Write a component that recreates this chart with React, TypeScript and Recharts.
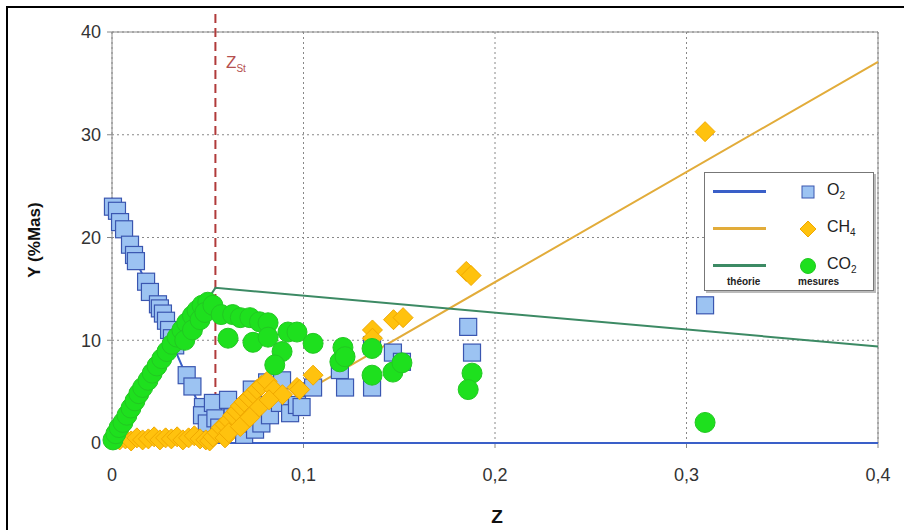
import React from 'react';
import {
  CartesianGrid,
  ReferenceLine,
  Scatter,
  ScatterChart,
  XAxis,
  YAxis,
} from 'recharts';

// Mass fractions vs mixture fraction Z: theory (lines) and measurements (markers).

const X_TICKS = [0, 0.1, 0.2, 0.3, 0.4];
const Y_TICKS = [0, 10, 20, 30, 40];
const Z_ST = 0.054;

// theory curves
const O2_THEORY = [
  { z: 0, y: 23.2 },
  { z: 0.054, y: 0 },
  { z: 0.4, y: 0 },
];
const CH4_THEORY = [
  { z: 0, y: 0 },
  { z: 0.054, y: 0 },
  { z: 0.4, y: 37.1 },
];
const CO2_THEORY = [
  { z: 0, y: 0 },
  { z: 0.054, y: 15.1 },
  { z: 0.4, y: 9.4 },
];

// measurements
const O2_MEAS = [
  { z: 0.0005, y: 23.0 }, { z: 0.0026, y: 22.6 }, { z: 0.0042, y: 21.5 },
  { z: 0.0063, y: 20.8 }, { z: 0.0094, y: 19.3 }, { z: 0.0115, y: 18.3 },
  { z: 0.0125, y: 17.7 }, { z: 0.0178, y: 15.7 }, { z: 0.0198, y: 14.7 },
  { z: 0.024, y: 13.5 }, { z: 0.025, y: 13.1 }, { z: 0.0266, y: 12.6 },
  { z: 0.0282, y: 11.9 }, { z: 0.0298, y: 11.0 }, { z: 0.0313, y: 10.2 },
  { z: 0.033, y: 9.5 }, { z: 0.039, y: 6.6 }, { z: 0.042, y: 5.5 },
  { z: 0.0475, y: 3.5 }, { z: 0.047, y: 2.7 }, { z: 0.0495, y: 1.9 },
  { z: 0.0527, y: 3.9 }, { z: 0.054, y: 2.4 }, { z: 0.056, y: 1.5 },
  { z: 0.0606, y: 4.2 }, { z: 0.063, y: 2.5 }, { z: 0.066, y: 1.5 },
  { z: 0.069, y: 0.8 }, { z: 0.068, y: 1.9 }, { z: 0.073, y: 5.2 },
  { z: 0.0747, y: 1.3 }, { z: 0.078, y: 1.9 }, { z: 0.081, y: 5.9 },
  { z: 0.08, y: 3.7 }, { z: 0.0825, y: 2.7 }, { z: 0.0877, y: 3.9 },
  { z: 0.0888, y: 6.1 }, { z: 0.093, y: 2.9 }, { z: 0.0966, y: 3.7 },
  { z: 0.099, y: 3.5 }, { z: 0.105, y: 5.4 }, { z: 0.119, y: 7.1 },
  { z: 0.1217, y: 5.4 }, { z: 0.1358, y: 9.5 }, { z: 0.1358, y: 5.4 },
  { z: 0.1467, y: 8.8 }, { z: 0.1514, y: 7.9 }, { z: 0.186, y: 11.3 },
  { z: 0.188, y: 8.8 }, { z: 0.3097, y: 13.4 },
];

const CH4_MEAS = [
  { z: 0.004, y: 0.3 }, { z: 0.007, y: 0.4 }, { z: 0.010, y: 0.2 },
  { z: 0.013, y: 0.5 }, { z: 0.016, y: 0.3 }, { z: 0.019, y: 0.4 },
  { z: 0.022, y: 0.6 }, { z: 0.025, y: 0.3 }, { z: 0.028, y: 0.5 },
  { z: 0.031, y: 0.4 }, { z: 0.034, y: 0.6 }, { z: 0.037, y: 0.3 },
  { z: 0.040, y: 0.5 }, { z: 0.043, y: 0.7 }, { z: 0.046, y: 0.4 },
  { z: 0.049, y: 0.3 }, { z: 0.051, y: 0.2 },
  { z: 0.0527, y: 0.6 }, { z: 0.055, y: 1.0 }, { z: 0.057, y: 1.5 },
  { z: 0.059, y: 1.8 }, { z: 0.061, y: 2.2 }, { z: 0.063, y: 2.7 },
  { z: 0.065, y: 3.1 }, { z: 0.067, y: 3.6 }, { z: 0.069, y: 4.0 },
  { z: 0.0715, y: 4.4 }, { z: 0.0736, y: 4.8 }, { z: 0.0757, y: 5.2 },
  { z: 0.078, y: 5.6 }, { z: 0.081, y: 6.0 }, { z: 0.0845, y: 5.2 },
  { z: 0.089, y: 4.7 }, { z: 0.0966, y: 5.4 }, { z: 0.059, y: 0.5 },
  { z: 0.061, y: 1.0 }, { z: 0.067, y: 1.6 }, { z: 0.072, y: 2.5 },
  { z: 0.077, y: 3.5 }, { z: 0.082, y: 4.2 },
  { z: 0.098, y: 5.2 }, { z: 0.105, y: 6.6 }, { z: 0.136, y: 11.0 },
  { z: 0.136, y: 10.2 }, { z: 0.147, y: 12.0 }, { z: 0.152, y: 12.2 },
  { z: 0.185, y: 16.7 }, { z: 0.1875, y: 16.3 }, { z: 0.3097, y: 30.3 },
];

const CO2_MEAS = [
  { z: 0.0005, y: 0.3 }, { z: 0.002, y: 0.9 }, { z: 0.0037, y: 1.5 },
  { z: 0.0057, y: 2.0 }, { z: 0.0078, y: 2.7 }, { z: 0.0099, y: 3.4 },
  { z: 0.012, y: 4.1 }, { z: 0.014, y: 4.8 }, { z: 0.016, y: 5.4 },
  { z: 0.0188, y: 6.1 }, { z: 0.021, y: 6.8 }, { z: 0.0235, y: 7.5 },
  { z: 0.026, y: 8.2 }, { z: 0.0287, y: 8.9 }, { z: 0.0313, y: 9.6 },
  { z: 0.034, y: 10.3 }, { z: 0.0365, y: 11.0 }, { z: 0.039, y: 11.7 },
  { z: 0.042, y: 12.4 }, { z: 0.0444, y: 12.9 }, { z: 0.047, y: 13.4 },
  { z: 0.05, y: 13.7 }, { z: 0.038, y: 10.0 }, { z: 0.042, y: 11.0 },
  { z: 0.046, y: 12.0 }, { z: 0.0485, y: 12.7 },
  { z: 0.0527, y: 13.4 }, { z: 0.057, y: 12.5 }, { z: 0.063, y: 12.5 },
  { z: 0.067, y: 12.2 }, { z: 0.072, y: 12.2 }, { z: 0.077, y: 11.8 },
  { z: 0.0815, y: 11.7 }, { z: 0.0606, y: 10.2 }, { z: 0.0736, y: 9.8 },
  { z: 0.0815, y: 10.3 }, { z: 0.0888, y: 8.9 }, { z: 0.085, y: 7.6 },
  { z: 0.0919, y: 10.8 }, { z: 0.0966, y: 10.8 }, { z: 0.105, y: 9.7 },
  { z: 0.1206, y: 9.3 }, { z: 0.119, y: 7.9 }, { z: 0.1217, y: 8.4 },
  { z: 0.1358, y: 9.2 }, { z: 0.1358, y: 6.6 }, { z: 0.1467, y: 6.9 },
  { z: 0.1514, y: 7.8 }, { z: 0.188, y: 6.8 }, { z: 0.186, y: 5.2 },
  { z: 0.3097, y: 2.0 },
];

const FONT = '"Liberation Sans", Arial, sans-serif';
const fmtTick = (v: number) => String(v).replace('.', ',');

const SquareDot = (p: any) => (
  <rect x={p.cx - 8.5} y={p.cy - 8.5} width={17} height={17} fill="#9cc3f2" stroke="#3a56b0" strokeWidth={1.2} />
);
const DiamondDot = (p: any) => (
  <polygon
    points={`${p.cx},${p.cy - 10} ${p.cx + 10},${p.cy} ${p.cx},${p.cy + 10} ${p.cx - 10},${p.cy}`}
    fill="#ffc20e"
    stroke="#f0a800"
    strokeWidth={1}
  />
);
const CircleDot = (p: any) => <circle cx={p.cx} cy={p.cy} r={10} fill="#1ee01e" stroke="#22c822" strokeWidth={1} />;
const NoDot = () => <g />;

function Legend() {
  const row = (color: string, marker: React.ReactNode, label: React.ReactNode) => (
    <div style={{ display: 'flex', alignItems: 'center', height: 37 }}>
      <div style={{ width: 53, height: 2.5, background: color, marginLeft: 8 }} />
      <svg width={20} height={20} style={{ marginLeft: 32 }}>
        {marker}
      </svg>
      <span style={{ marginLeft: 9, fontSize: 16, color: '#222' }}>{label}</span>
    </div>
  );
  return (
    <div
      style={{
        position: 'absolute',
        left: 704,
        top: 172,
        width: 168,
        height: 117,
        border: '1px solid #777',
        boxShadow: '2px 2px 0 #bbb',
        background: '#fff',
        fontFamily: FONT,
      }}
    >
      <div>
        {row('#3a5fc8', <rect x={4} y={4} width={12} height={12} fill="#9cc3f2" stroke="#3a56b0" />, (
          <>O<sub style={{ fontSize: 10 }}>2</sub></>
        ))}
        {row('#e2ac3a', <polygon points="10,2 18,10 10,18 2,10" fill="#ffc20e" stroke="#f0a800" />, (
          <>CH<sub style={{ fontSize: 10 }}>4</sub></>
        ))}
        {row('#3c8a64', <circle cx={10} cy={10} r={7.5} fill="#1ee01e" stroke="#22c822" />, (
          <>CO<sub style={{ fontSize: 10 }}>2</sub></>
        ))}
      </div>
      <div style={{ position: 'absolute', top: 103, left: 22, fontSize: 10, fontWeight: 'bold', color: '#222' }}>
        théorie
      </div>
      <div style={{ position: 'absolute', top: 103, left: 93, fontSize: 10, fontWeight: 'bold', color: '#222' }}>
        mesures
      </div>
    </div>
  );
}

export default function App() {
  return (
    <div style={{ position: 'absolute', left: 0, top: 0, width: 904, height: 530, background: '#fff', overflow: 'hidden' }}>
      {/* outer frame of the original figure */}
      <div
        style={{
          position: 'absolute',
          left: 6,
          top: 6,
          width: 904,
          height: 540,
          borderLeft: '2px solid #000',
          borderTop: '2px solid #000',
        }}
      />
      <ScatterChart
        width={904}
        height={530}
        margin={{ top: 32, right: 26, bottom: 57, left: 52 }}
        style={{ position: 'absolute', left: 0, top: 0, fontFamily: FONT }}
      >
        <CartesianGrid stroke="#888" strokeDasharray="2 3" horizontal vertical />
        <XAxis
          type="number"
          dataKey="z"
          domain={[0, 0.4]}
          ticks={X_TICKS}
          tickFormatter={fmtTick}
          stroke="#888"
          tickSize={5}
          tickMargin={20}
          tick={{ fill: '#333', fontSize: 18 }}
          label={{
            content: () => (
              <text x={497} y={523} textAnchor="middle" fontSize={19} fontWeight="bold" fill="#111" fontFamily={FONT}>
                Z
              </text>
            ),
          }}
        />
        <YAxis
          type="number"
          dataKey="y"
          width={60}
          domain={[0, 40]}
          ticks={Y_TICKS}
          stroke="#888"
          tickSize={5}
          tickMargin={6}
          tick={{ fill: '#333', fontSize: 18 }}
          label={{
            content: () => (
              <text
                x={40}
                y={240}
                transform="rotate(-90 40 240)"
                textAnchor="middle"
                fontSize={17}
                fontWeight="bold"
                fill="#111"
                fontFamily={FONT}
              >
                Y (%Mas)
              </text>
            ),
          }}
        />
        <ReferenceLine y={40} stroke="#888" />
        <ReferenceLine x={0.4} stroke="#888" />

        <Scatter data={O2_THEORY} line={{ stroke: '#3a5fc8', strokeWidth: 2 }} shape={NoDot} isAnimationActive={false} />
        <Scatter data={CH4_THEORY} line={{ stroke: '#e2ac3a', strokeWidth: 2 }} shape={NoDot} isAnimationActive={false} />
        <Scatter data={CO2_THEORY} line={{ stroke: '#3c8a64', strokeWidth: 2 }} shape={NoDot} isAnimationActive={false} />

        <Scatter data={O2_MEAS} shape={SquareDot} isAnimationActive={false} />
        <Scatter data={CH4_MEAS} shape={DiamondDot} isAnimationActive={false} />
        <Scatter data={CO2_MEAS} shape={CircleDot} isAnimationActive={false} />

        <ReferenceLine
          segment={[{ x: Z_ST, y: 0 }, { x: Z_ST, y: 42.2 }]}
          ifOverflow="visible"
          stroke="#b03a3a"
          strokeWidth={2}
          strokeDasharray="9 5"
          label={{
            content: () => (
              <text x={226} y={68} fill="#b5504f" fontSize={17} fontFamily={FONT}>
                Z<tspan fontSize={10} dy={4}>St</tspan>
              </text>
            ),
          }}
        />
      </ScatterChart>
      <Legend />
    </div>
  );
}
